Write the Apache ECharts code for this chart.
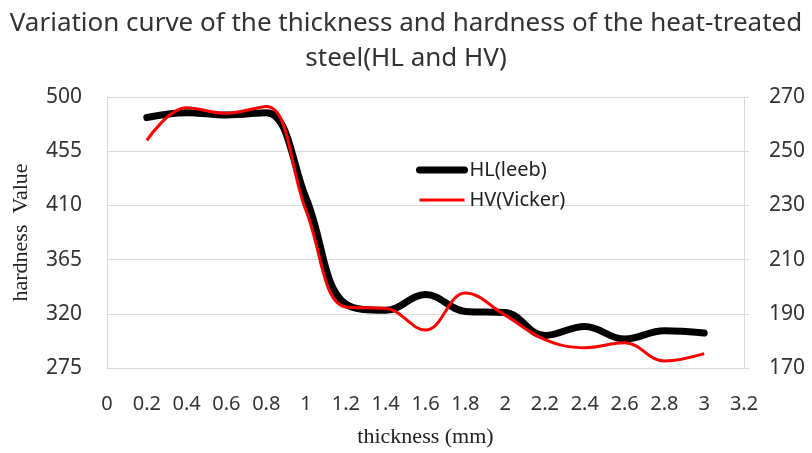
<!DOCTYPE html>
<html>
<head>
<meta charset="utf-8">
<script src="https://cdn.jsdelivr.net/npm/echarts@6/dist/echarts.min.js"></script>
<style>html,body{margin:0;padding:0;background:#fff;}#chart{width:812px;height:453px;}</style>
</head>
<body>
<div id="chart"></div>
<script>
var thickness = [0.2, 0.4, 0.6, 0.8, 1.0, 1.2, 1.4, 1.6, 1.8, 2.0, 2.2, 2.4, 2.6, 2.8, 3.0];
var hlLeeb = [483, 487, 485, 487, 416, 328, 323, 336, 322, 321, 302, 309.5, 299, 306, 304];
var hvVicker = [254, 266, 264, 266.5, 228, 192.5, 192, 184, 197.7, 189.5, 180.5, 177.5, 179.3, 172.6, 175.3];
var seriesNames = ['HL(leeb)', 'HV(Vicker)'];
var titleText = 'Variation curve of the thickness and hardness of the heat-treated\nsteel(HL and HV)';

function pairs(xs, ys) { return xs.map(function (x, i) { return [x, ys[i]]; }); }

var chart = echarts.init(document.getElementById('chart'), null, { renderer: 'canvas' });
var sans = '"Noto Sans", "Open Sans", sans-serif';
var serif = '"Liberation Serif", "DejaVu Serif", serif';
var labelColor = '#333';
var gridColor = '#d9d9d9';

chart.setOption({
  animation: false,
  backgroundColor: '#fff',
  title: {
    text: titleText,
    left: 'center',
    top: 1,
    textStyle: { fontFamily: sans, fontSize: 26, fontWeight: 'normal', color: '#333', lineHeight: 35 }
  },
  legend: {
    orient: 'vertical',
    left: 411,
    top: 155,
    itemWidth: 45,
    itemHeight: 14,
    itemGap: 10,
    data: [
      { name: seriesNames[0], lineStyle: { width: 7, color: '#000' }, itemStyle: { opacity: 0 } },
      { name: seriesNames[1], lineStyle: { width: 3, color: '#ff0000' }, itemStyle: { opacity: 0 } }
    ],
    textStyle: { fontFamily: sans, fontSize: 20, color: '#222' }
  },
  grid: { left: 107, right: 68, top: 97, bottom: 78, containLabel: false },
  xAxis: {
    type: 'value',
    min: 0, max: 3.2, interval: 0.2,
    name: 'thickness (mm)',
    nameLocation: 'middle',
    nameGap: 58,
    nameTextStyle: { fontFamily: serif, fontSize: 22, color: '#222' },
    axisLine: { show: true, lineStyle: { color: gridColor, width: 1 } },
    axisTick: { show: false },
    splitLine: { show: false },
    axisLabel: { fontFamily: sans, fontSize: 20, color: labelColor, margin: 26 }
  },
  yAxis: [
    {
      type: 'value',
      min: 275, max: 500, interval: 45,
      name: 'hardness  Value',
      nameLocation: 'middle',
      nameRotate: 90,
      nameGap: 75,
      nameTextStyle: { fontFamily: serif, fontSize: 22, color: '#222' },
      axisLine: { show: true, lineStyle: { color: gridColor, width: 1 } },
      axisTick: { show: false },
      splitLine: { show: true, lineStyle: { color: gridColor, width: 1 } },
      axisLabel: { fontFamily: sans, fontSize: 21, color: labelColor, margin: 25 }
    },
    {
      type: 'value',
      min: 170, max: 270, interval: 20,
      position: 'right',
      axisLine: { show: true, lineStyle: { color: gridColor, width: 1 } },
      axisTick: { show: true, inside: false, length: 5, lineStyle: { color: gridColor } },
      splitLine: { show: false },
      axisLabel: { fontFamily: sans, fontSize: 21, color: labelColor, margin: 25 }
    }
  ],
  series: [
    {
      name: seriesNames[0],
      type: 'line',
      yAxisIndex: 0,
      smooth: 0.4,
      symbol: 'none',
      data: pairs(thickness, hlLeeb),
      lineStyle: { color: '#000', width: 7, cap: 'round' },
      itemStyle: { color: '#000' },
      z: 2
    },
    {
      name: seriesNames[1],
      type: 'line',
      yAxisIndex: 1,
      smooth: 0.4,
      symbol: 'none',
      data: pairs(thickness, hvVicker),
      lineStyle: { color: '#ff0000', width: 3 },
      itemStyle: { color: '#ff0000' },
      z: 3
    }
  ]
});
</script>
</body>
</html>
